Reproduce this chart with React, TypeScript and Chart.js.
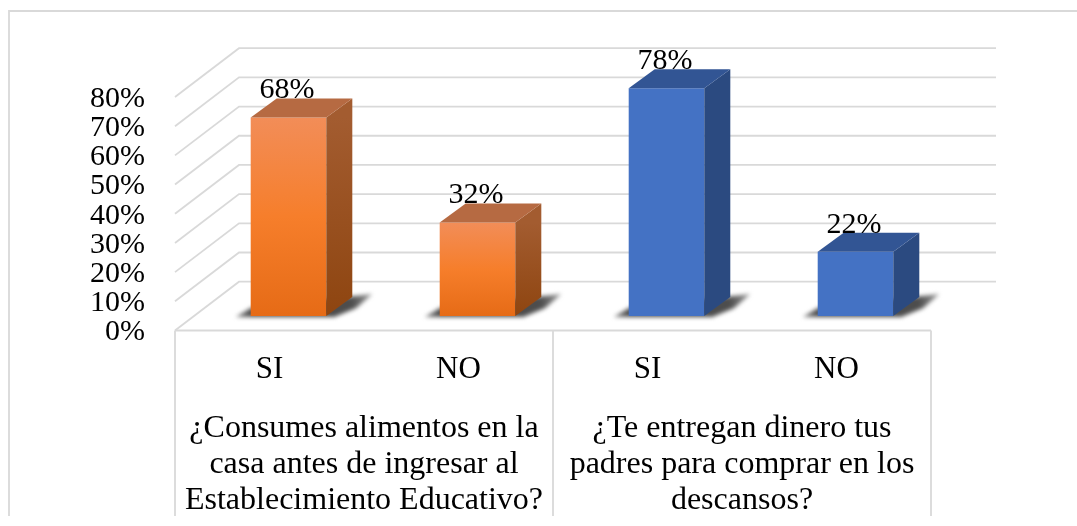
import React, { useEffect, useRef } from "react";
import { Chart, registerables } from "chart.js";

Chart.register(...registerables);

const categories = ["SI", "NO", "SI", "NO"];
const values = [68, 32, 78, 22];
const barFamily = ["orange", "orange", "blue", "blue"];
const groupLabels = [
  ["¿Consumes alimentos en la", "casa antes de ingresar al", "Establecimiento Educativo?"],
  ["¿Te entregan dinero tus", "padres para comprar en los", "descansos?"],
];

const FONT = "'Liberation Serif', 'Times New Roman', serif";
const GRID = "#d9d9d9";
const WALL_DX = 64;
const WALL_DY = 48.8;
const WALL_RIGHT_BACK = 996;
const BAR_SHIFT_X = 19;
const BAR_SHIFT_Y = 14.5;
const DEPTH_X = 26;
const DEPTH_Y = 19;
const FRAME = { x: 9, y: 11, bottom: 516 };

const palette: any = {
  orange: {
    front: ["#f28d58", "#f67e2b", "#e66b16"],
    side: ["#a35c30", "#8e4510"],
    top: "#b66a42",
  },
  blue: {
    front: ["#4472c4", "#4472c4", "#4472c4"],
    side: ["#2b4a80", "#2b4a80"],
    top: "#325594",
  },
};

const line = (ctx: any, pts: number[][]) => {
  ctx.beginPath();
  pts.forEach((p, i) => (i ? ctx.lineTo(p[0], p[1]) : ctx.moveTo(p[0], p[1])));
  ctx.stroke();
};

const poly = (ctx: any, pts: number[][]) => {
  ctx.beginPath();
  pts.forEach((p, i) => (i ? ctx.lineTo(p[0], p[1]) : ctx.moveTo(p[0], p[1])));
  ctx.closePath();
  ctx.fill();
};

const threeD = {
  id: "threeD",
  beforeDraw(chart: any) {
    const { ctx, chartArea: a } = chart;
    ctx.save();
    ctx.fillStyle = "#ffffff";
    ctx.fillRect(0, 0, chart.width, chart.height);
    ctx.strokeStyle = GRID;
    ctx.lineWidth = 1.8;
    line(ctx, [
      [FRAME.x, FRAME.bottom],
      [FRAME.x, FRAME.y],
      [chart.width, FRAME.y],
    ]);
    // divisions of the axis table
    const mid = (a.left + a.right) / 2;
    [a.left, mid, a.right].forEach((x) =>
      line(ctx, [
        [x, a.bottom],
        [x, FRAME.bottom],
      ])
    );
    line(ctx, [
      [a.left, a.bottom],
      [a.right, a.bottom],
    ]);
    // walls
    const y = chart.scales.y;
    y.ticks.forEach((t: any) => {
      const py = y.getPixelForValue(t.value);
      line(ctx, [
        [a.left, py],
        [a.left + WALL_DX, py - WALL_DY],
        [WALL_RIGHT_BACK, py - WALL_DY],
      ]);
    });
    ctx.restore();
  },
  beforeDatasetsDraw(chart: any) {
    const { ctx } = chart;
    ctx.save();
    ctx.translate(BAR_SHIFT_X, -BAR_SHIFT_Y);
    const bars = chart.getDatasetMeta(0).data;
    bars.forEach((b: any) => {
      const l = b.x - b.width / 2;
      const r = b.x + b.width / 2;
      const base = b.base;
      ctx.save();
      ctx.filter = "blur(2px)";
      const g = ctx.createLinearGradient(l - 16, 0, r + 46, 0);
      g.addColorStop(0, "#8a8a8a");
      g.addColorStop(0.12, "#4d4d4d");
      g.addColorStop(0.85, "#4d4d4d");
      g.addColorStop(1, "#9a9a9a");
      ctx.fillStyle = g;
      poly(ctx, [
        [l - 15, base + 1],
        [l, base - 8],
        [r + DEPTH_X + 20, base - 22],
        [r + 30, base - 8],
        [r + 8, base + 1],
      ]);
      ctx.restore();
    });
  },
  afterDatasetsDraw(chart: any) {
    const { ctx } = chart;
    const bars = chart.getDatasetMeta(0).data;
    bars.forEach((b: any, i: number) => {
      const c = palette[barFamily[i]];
      const l = b.x - b.width / 2;
      const r = b.x + b.width / 2;
      const g = ctx.createLinearGradient(0, b.y, 0, b.base);
      g.addColorStop(0, c.side[0]);
      g.addColorStop(1, c.side[1]);
      ctx.fillStyle = g;
      poly(ctx, [
        [r, b.y],
        [r + DEPTH_X, b.y - DEPTH_Y],
        [r + DEPTH_X, b.base - DEPTH_Y],
        [r, b.base],
      ]);
      ctx.fillStyle = c.top;
      poly(ctx, [
        [l, b.y],
        [l + DEPTH_X, b.y - DEPTH_Y],
        [r + DEPTH_X, b.y - DEPTH_Y],
        [r, b.y],
      ]);
      ctx.fillStyle = "#000000";
      ctx.font = `30px ${FONT}`;
      ctx.textAlign = "center";
      ctx.textBaseline = "middle";
      ctx.fillText(`${values[i]}%`, b.x - 1.5, b.y - 27);
    });
    ctx.restore();
  },
};

export default function App() {
  const ref = useRef<HTMLCanvasElement>(null);
  useEffect(() => {
    const chart = new Chart(ref.current as any, {
      type: "bar",
      data: {
        labels: categories,
        datasets: [
          {
            data: values,
            clip: false,
            categoryPercentage: 1,
            barPercentage: 0.4,
            borderWidth: 0,
            backgroundColor: (ctx: any) => {
              const { chart: ch, dataIndex } = ctx;
              const c = palette[barFamily[dataIndex]];
              const s = ch.scales.y;
              const top = s ? s.getPixelForValue(values[dataIndex]) : NaN;
              const bottom = s ? s.getPixelForValue(0) : NaN;
              if (!Number.isFinite(top) || !Number.isFinite(bottom)) return c.front[1];
              const g = ch.ctx.createLinearGradient(0, top, 0, bottom);
              g.addColorStop(0, c.front[0]);
              g.addColorStop(0.5, c.front[1]);
              g.addColorStop(1, c.front[2]);
              return g;
            },
          } as any,
        ],
      },
      options: {
        animation: false,
        responsive: false,
        layout: { padding: { top: 97, right: 146, left: 0, bottom: 0 } },
        plugins: { legend: { display: false }, tooltip: { enabled: false } },
        scales: {
          y: {
            min: 0,
            max: 80,
            grid: { display: false, drawTicks: false },
            border: { display: false },
            ticks: {
              stepSize: 10,
              autoSkip: false,
              padding: 30,
              labelOffset: 2,
              color: "#000000",
              font: { family: FONT, size: 30, lineHeight: 1 },
              callback: (v: any) => `${v}%`,
            },
            afterFit: (s: any) => {
              s.width = 175;
            },
          },
          x: {
            position: "bottom",
            grid: { display: false, drawTicks: false },
            border: { display: false },
            ticks: {
              autoSkip: false,
              maxRotation: 0,
              padding: 21,
              color: "#000000",
              font: { family: FONT, size: 31, lineHeight: 1.2 },
            },
            afterFit: (s: any) => {
              s.height = 72;
            },
          },
          x2: {
            type: "category",
            position: "bottom",
            labels: groupLabels,
            offset: true,
            grid: { display: false, drawTicks: false },
            border: { display: false },
            ticks: {
              autoSkip: false,
              maxRotation: 0,
              padding: 8,
              color: "#000000",
              font: { family: FONT, size: 32, lineHeight: 1.125 },
            },
            afterFit: (s: any) => {
              s.height = 123.5;
            },
          },
        },
      } as any,
      plugins: [threeD],
    });
    return () => chart.destroy();
  }, []);
  return (
    <div style={{ position: "absolute", left: 0, top: 0, width: 1077, height: 526 }}>
      <canvas ref={ref} width={1077} height={526} style={{ display: "block", filter: "blur(0.4px)" }} />
    </div>
  );
}
